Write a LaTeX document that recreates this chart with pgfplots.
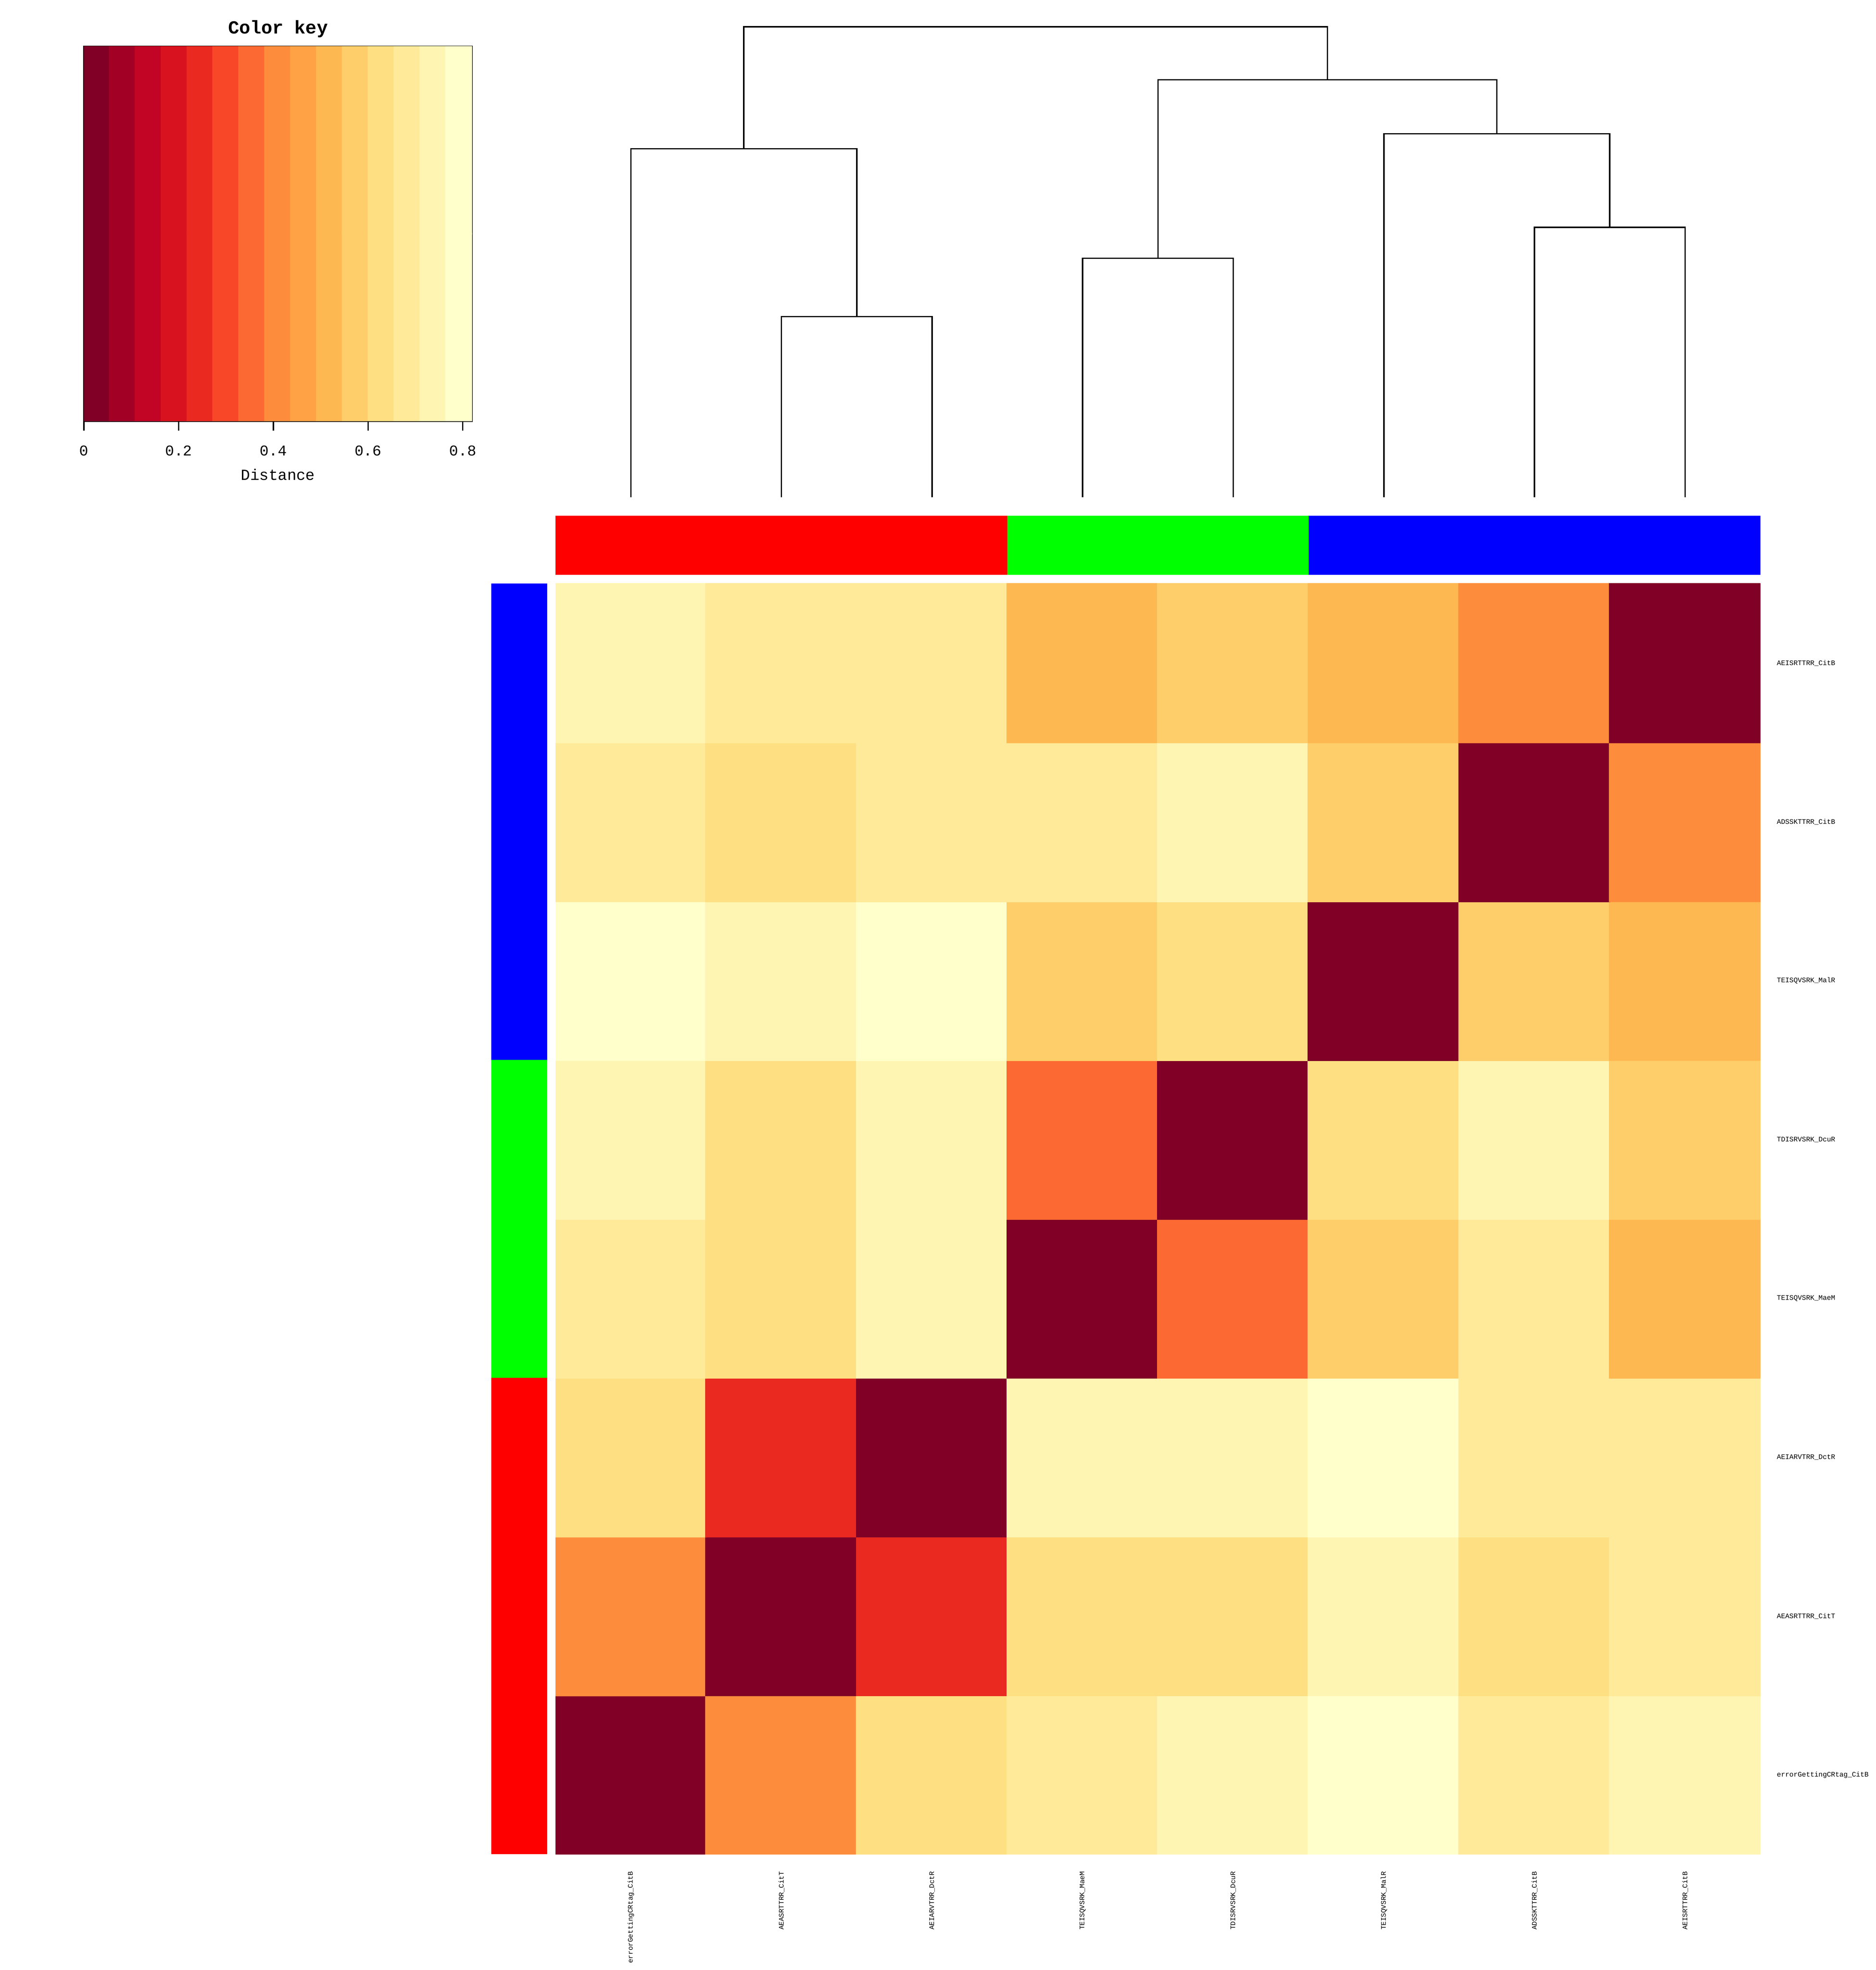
\documentclass[border=0pt]{standalone}
\usepackage{fontspec}
\setmainfont{Liberation Mono}
\usepackage{pgfplots}
\usepackage{pgfplotstable}
\pgfplotsset{compat=1.18}

\pgfplotstableread{
x y d
1 1 0
2 1 0.405
3 1 0.628
4 1 0.688
5 1 0.742
6 1 0.798
7 1 0.690
8 1 0.735
1 2 0.405
2 2 0
3 2 0.2672
4 2 0.640
5 2 0.645
6 2 0.745
7 2 0.632
8 2 0.690
1 3 0.628
2 3 0.2672
3 3 0
4 3 0.722
5 3 0.728
6 3 0.812
7 3 0.683
8 3 0.695
1 4 0.688
2 4 0.640
3 4 0.722
4 4 0
5 4 0.3535
6 4 0.578
7 4 0.686
8 4 0.525
1 5 0.742
2 5 0.645
3 5 0.728
4 5 0.3535
5 5 0
6 5 0.632
7 5 0.738
8 5 0.585
1 6 0.798
2 6 0.745
3 6 0.812
4 6 0.578
5 6 0.632
6 6 0
7 6 0.565
8 6 0.510
1 7 0.690
2 7 0.632
3 7 0.683
4 7 0.686
5 7 0.738
6 7 0.565
7 7 0
8 7 0.3994
1 8 0.735
2 8 0.690
3 8 0.695
4 8 0.525
5 8 0.585
6 8 0.510
7 8 0.3994
8 8 0
}\distmat

\pgfplotstableread{
x y d
0.02732 0.25 0.02732
0.08197 0.25 0.08197
0.13662 0.25 0.13662
0.19126 0.25 0.19126
0.24591 0.25 0.24591
0.30056 0.25 0.30056
0.35520 0.25 0.35520
0.40985 0.25 0.40985
0.46450 0.25 0.46450
0.51914 0.25 0.51914
0.57379 0.25 0.57379
0.62844 0.25 0.62844
0.68308 0.25 0.68308
0.73773 0.25 0.73773
0.79238 0.25 0.79238
0.02732 0.75 0.02732
0.08197 0.75 0.08197
0.13662 0.75 0.13662
0.19126 0.75 0.19126
0.24591 0.75 0.24591
0.30056 0.75 0.30056
0.35520 0.75 0.35520
0.40985 0.75 0.40985
0.46450 0.75 0.46450
0.51914 0.75 0.51914
0.57379 0.75 0.57379
0.62844 0.75 0.62844
0.68308 0.75 0.68308
0.73773 0.75 0.73773
0.79238 0.75 0.79238
}\keytab

\pgfplotsset{
  colormap={ylorrd}{rgb255=(128,0,38) rgb255=(163,0,38) rgb255=(194,4,37)
    rgb255=(216,19,31) rgb255=(234,41,32) rgb255=(248,71,40) rgb255=(252,105,50)
    rgb255=(253,141,60) rgb255=(254,162,69) rgb255=(254,184,82) rgb255=(254,206,106)
    rgb255=(254,223,130) rgb255=(255,234,154) rgb255=(255,245,179) rgb255=(255,255,204)},
}

\begin{document}
\begin{tikzpicture}
\useasboundingbox (0,0) rectangle (150mm,157.5mm);

% ---------------- heatmap ----------------
\begin{axis}[
  at={(44.42mm,9.25mm)}, anchor=south west,
  scale only axis, width=96.34mm, height=101.6mm,
  xmin=0.5, xmax=8.5, ymin=0.5, ymax=8.5,
  axis line style={draw=none}, major tick length=0pt,
  xtick={1,...,8}, ytick={1,...,8},
  xticklabels={errorGettingCRtag\_CitB, AEASRTTRR\_CitT, AEIARVTRR\_DctR, TEISQVSRK\_MaeM, TDISRVSRK\_DcuR, TEISQVSRK\_MalR, ADSSKTTRR\_CitB, AEISRTTRR\_CitB},
  yticklabels={errorGettingCRtag\_CitB, AEASRTTRR\_CitT, AEIARVTRR\_DctR, TEISQVSRK\_MaeM, TDISRVSRK\_DcuR, TEISQVSRK\_MalR, ADSSKTTRR\_CitB, AEISRTTRR\_CitB},
  yticklabel pos=right,
  xticklabel style={rotate=90, anchor=east, inner sep=0pt, font=\fontsize{1.58}{2}\selectfont},
  yticklabel style={anchor=west, inner sep=0pt, font=\fontsize{1.58}{2}\selectfont},
  xticklabel shift=1.3mm, yticklabel shift=1.25mm,
  colormap name=ylorrd, colormap access=piecewise constant,
  point meta min=0, point meta max=0.8197,
]
\addplot[matrix plot*, mesh/cols=8, point meta=explicit] table[x=x, y=y, meta=d]{\distmat};
\end{axis}

% ---------------- column side colours ----------------
\begin{axis}[
  at={(44.42mm,111.53mm)}, anchor=south west,
  scale only axis, width=96.34mm, height=4.73mm,
  xmin=0.5, xmax=8.5, ymin=0, ymax=1, hide axis,
]
\addplot[fill=red, draw=none] coordinates {(0.5,0) (3.5,0) (3.5,1) (0.5,1)};
\addplot[fill=green, draw=none] coordinates {(3.5,0) (5.5,0) (5.5,1) (3.5,1)};
\addplot[fill=blue, draw=none] coordinates {(5.5,0) (8.5,0) (8.5,1) (5.5,1)};
\end{axis}

% ---------------- row side colours ----------------
\begin{axis}[
  at={(39.27mm,9.25mm)}, anchor=south west,
  scale only axis, width=4.48mm, height=101.6mm,
  xmin=0, xmax=1, ymin=0.5, ymax=8.5, hide axis,
]
\addplot[fill=red, draw=none] coordinates {(0,0.5) (1,0.5) (1,3.5) (0,3.5)};
\addplot[fill=green, draw=none] coordinates {(0,3.5) (1,3.5) (1,5.5) (0,5.5)};
\addplot[fill=blue, draw=none] coordinates {(0,5.5) (1,5.5) (1,8.5) (0,8.5)};
\end{axis}

% ---------------- column dendrogram ----------------
\begin{axis}[
  at={(44.42mm,117.76mm)}, anchor=south west,
  scale only axis, width=96.34mm, height=37.8mm,
  xmin=0.5, xmax=8.5, ymin=0, ymax=0.7, hide axis, clip=false,
]
\addplot[black, line width=0.32pt] coordinates {(2,0) (2,0.2672) (3,0.2672) (3,0)};
\addplot[black, line width=0.32pt] coordinates {(1,0) (1,0.5156) (2.5,0.5156) (2.5,0.2672)};
\addplot[black, line width=0.32pt] coordinates {(4,0) (4,0.3535) (5,0.3535) (5,0)};
\addplot[black, line width=0.32pt] coordinates {(7,0) (7,0.3994) (8,0.3994) (8,0)};
\addplot[black, line width=0.32pt] coordinates {(6,0) (6,0.5380) (7.5,0.5380) (7.5,0.3994)};
\addplot[black, line width=0.32pt] coordinates {(4.5,0.3535) (4.5,0.6178) (6.75,0.6178) (6.75,0.5380)};
\addplot[black, line width=0.32pt] coordinates {(1.75,0.5156) (1.75,0.6963) (5.625,0.6963) (5.625,0.6178)};
\end{axis}

% ---------------- colour key ----------------
\begin{axis}[
  at={(6.71mm,123.83mm)}, anchor=south west,
  scale only axis, width=31.04mm, height=29.97mm,
  xmin=0, xmax=0.8197, ymin=0, ymax=1,
  ytick=\empty, xtick={0,0.2,0.4,0.6,0.8},
  xtick pos=lower, xtick align=outside, major tick length=0.77mm,
  axis line style={line width=0.3pt}, tick style={black, line width=0.3pt},
  /pgf/number format/assume math mode=true,
  xticklabel style={anchor=center, font=\fontsize{3.4}{4}\selectfont},
  xticklabel shift=1.6mm,
  title={Color key},
  every axis title/.style={at={(axis description cs:0.5,1)}, anchor=center, yshift=1.4mm, font=\fontsize{4.2}{5}\selectfont\bfseries},
  xlabel={Distance},
  xlabel style={at={(axis description cs:0.5,0)}, anchor=center, yshift=-4.26mm, font=\fontsize{3.5}{4}\selectfont},
  colormap name=ylorrd, colormap access=piecewise constant,
  point meta min=0, point meta max=0.8197,
]
\addplot[matrix plot*, mesh/cols=15, point meta=explicit] table[x=x, y=y, meta=d]{\keytab};
\end{axis}
\end{tikzpicture}
\end{document}
